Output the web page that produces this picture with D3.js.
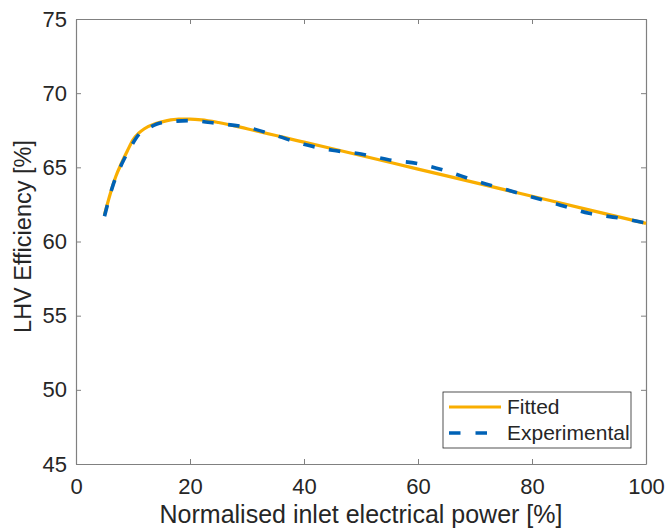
<!DOCTYPE html>
<html>
<head>
  <meta charset="utf-8">
  <script src="https://d3js.org/d3.v7.min.js"></script>
  <style>
    body { margin: 0; background: #fff; }
    text { font-family: "Liberation Sans", Arial, sans-serif; fill: #262626; }
    .axis .domain, .axis line { stroke: #808080; }
  </style>
</head>
<body>
  <svg id="plot" width="666" height="528"></svg>
  <script>
    // data
    const fittedX = [5, 6, 7, 8, 9, 10, 11, 12, 14, 16, 18, 20, 22, 25, 30, 40, 50, 60, 70, 80, 90, 100];
    const fittedY = [61.8, 63.2, 64.4, 65.3, 66.1, 66.85, 67.3, 67.6, 67.95, 68.15, 68.25, 68.25, 68.2, 68.02, 67.6, 66.7, 65.8, 64.88, 63.97, 63.05, 62.13, 61.22];
    const expX = [5, 6.5, 8, 9.5, 11, 13, 15, 20, 25, 30, 35, 40, 45, 50, 55, 60, 65, 70, 75, 80, 85, 90, 95, 100];
    const expY = [61.7, 63.8, 65.2, 66.3, 67.2, 67.7, 68.0, 68.15, 67.95, 67.7, 67.15, 66.55, 66.15, 65.9, 65.5, 65.25, 64.75, 64.1, 63.55, 63.0, 62.45, 61.9, 61.6, 61.25];
    const xTicks = [0, 20, 40, 60, 80, 100];
    const yTicks = [45, 50, 55, 60, 65, 70, 75];
    const seriesNames = ["Fitted", "Experimental"];

    const svg = d3.select("#plot");
    const margin = { top: 19, right: 20, bottom: 64, left: 76 };
    const width = 666 - margin.left - margin.right;
    const height = 528 - margin.top - margin.bottom;
    const g = svg.append("g").attr("transform", `translate(${margin.left},${margin.top})`);

    const x = d3.scaleLinear().domain([0, 100]).range([0, width]);
    const y = d3.scaleLinear().domain([45, 75]).range([height, 0]);

    // axes with inward ticks, box on
    g.append("g").attr("class", "axis").attr("transform", `translate(0,${height})`)
      .call(d3.axisBottom(x).tickValues(xTicks).tickSizeInner(-5).tickSizeOuter(0).tickPadding(14));
    g.append("g").attr("class", "axis")
      .call(d3.axisTop(x).tickValues(xTicks).tickSizeInner(-5).tickSizeOuter(0).tickFormat(""));
    g.append("g").attr("class", "axis")
      .call(d3.axisLeft(y).tickValues(yTicks).tickSizeInner(-5).tickSizeOuter(0).tickPadding(9));
    g.append("g").attr("class", "axis").attr("transform", `translate(${width},0)`)
      .call(d3.axisRight(y).tickValues(yTicks).tickSizeInner(-5).tickSizeOuter(0).tickFormat(""));
    g.selectAll(".axis text").style("font-size", "22px").attr("fill", "#262626")
      .style("font-family", "Liberation Sans, Arial, sans-serif");
    g.selectAll(".axis .domain").attr("stroke-width", 1.2);

    const line = d3.line().x(d => x(d[0])).y(d => y(d[1])).curve(d3.curveMonotoneX);

    g.append("path")
      .datum(fittedX.map((v, i) => [v, fittedY[i]]))
      .attr("d", line)
      .attr("fill", "none")
      .attr("stroke", "#F9AE00")
      .attr("stroke-width", 3.2);

    g.append("path")
      .datum(expX.map((v, i) => [v, expY[i]]))
      .attr("d", line)
      .attr("fill", "none")
      .attr("stroke", "#0062B6")
      .attr("stroke-width", 3.6)
      .attr("stroke-dasharray", "11.5,14.5");

    // axis labels
    svg.append("text")
      .attr("x", margin.left + width / 2).attr("y", 523)
      .attr("text-anchor", "middle").style("font-size", "25px")
      .text("Normalised inlet electrical power [%]");
    svg.append("text")
      .attr("transform", `translate(31,${margin.top + height / 2 - 5}) rotate(-90)`)
      .attr("text-anchor", "middle").style("font-size", "23.5px")
      .text("LHV Efficiency [%]");

    // legend
    const leg = svg.append("g").attr("transform", "translate(443,392)");
    leg.append("rect").attr("width", 188).attr("height", 56)
      .attr("fill", "#fff").attr("stroke", "#262626").attr("stroke-width", 0.8);
    const styles = [
      { stroke: "#F9AE00", width: 3.2, dash: null },
      { stroke: "#0062B6", width: 3.6, dash: "11.5,15" }
    ];
    seriesNames.forEach((name, i) => {
      const yy = 15 + i * 26;
      leg.append("line").attr("x1", 6).attr("x2", 58).attr("y1", yy).attr("y2", yy)
        .attr("stroke", styles[i].stroke).attr("stroke-width", styles[i].width)
        .attr("stroke-dasharray", styles[i].dash);
      leg.append("text").attr("x", 64).attr("y", yy).attr("dy", "0.35em")
        .style("font-size", "21px").text(name);
    });
  </script>
</body>
</html>
